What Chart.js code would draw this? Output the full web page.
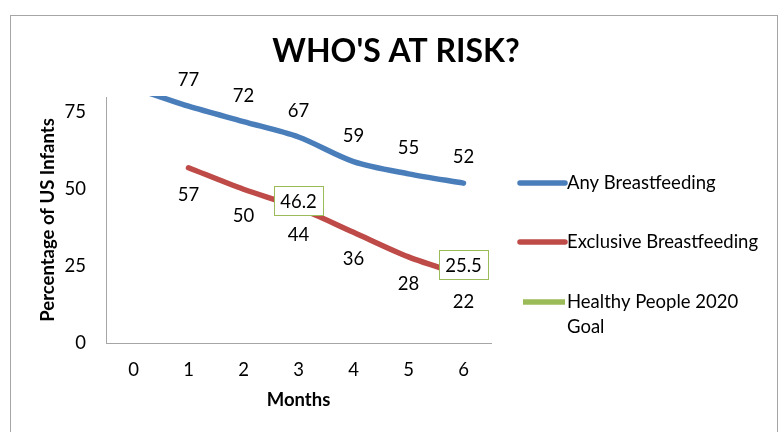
<!DOCTYPE html>
<html>
<head>
<meta charset="utf-8">
<script src="https://cdn.jsdelivr.net/npm/chart.js@4.4.1/dist/chart.umd.min.js"></script>
<style>
  html, body { margin: 0; padding: 0; background: #ffffff; }
  #wrap { position: relative; width: 783px; height: 432px; }
  canvas { display: block; }
</style>
</head>
<body>
<div id="wrap"><canvas id="c" width="783" height="432"></canvas></div>
<script>
// ---- data ----
const chartTitle = "WHO'S AT RISK?";
const xAxisTitle = 'Months';
const yAxisTitle = 'Percentage of US Infants';
const months = ['0', '1', '2', '3', '4', '5', '6'];
const anyBreastfeeding = [83, 77, 72, 67, 59, 55, 52];
const exclusiveBreastfeeding = [null, 57, 50, 44, 36, 28, 22];
const healthyPeopleGoal = [null, null, null, 46.2, null, null, 25.5];
const seriesNames = ['Any Breastfeeding', 'Exclusive Breastfeeding', 'Healthy People 2020 Goal'];
const yTicks = [0, 25, 50, 75];
const yMin = 0;
const yMax = 80;

const FONT = 'Lato, "Open Sans", sans-serif';
const FS = 18.5;
const BLUE = '#4a7ebb';
const RED = '#be4b48';
const GREEN = '#9bbb59';
const AXIS = '#a6a6a6';

const decorPlugin = {
  id: 'decor',
  beforeDraw(chart) {
    const ctx = chart.ctx;
    ctx.save();
    ctx.strokeStyle = '#a6a6a6';
    ctx.lineWidth = 1;
    ctx.strokeRect(10.5, 15.5, 767, 440);
    ctx.fillStyle = '#000';
    ctx.font = 'bold 32px ' + FONT;
    ctx.textAlign = 'center';
    ctx.textBaseline = 'middle';
    ctx.fillText(chartTitle, 396, 52);
    ctx.restore();
  },
  afterDatasetsDraw(chart) {
    const ctx = chart.ctx;
    const area = chart.chartArea;
    ctx.save();
    ctx.font = FS + 'px ' + FONT;
    ctx.textAlign = 'center';
    ctx.textBaseline = 'middle';
    chart.data.datasets.forEach((ds, di) => {
      const meta = chart.getDatasetMeta(di);
      meta.data.forEach((pt, i) => {
        const v = ds.data[i];
        if (v === null || v === undefined) return;
        if (pt.y < area.top - 0.5 || pt.y > area.bottom + 0.5) return;
        const txt = String(v);
        if (ds.labelPos === 'above') {
          ctx.fillStyle = '#000';
          ctx.fillText(txt, pt.x, pt.y - 26);
        } else if (ds.labelPos === 'below') {
          ctx.fillStyle = '#000';
          ctx.fillText(txt, pt.x, pt.y + 27);
        } else {
          const w = ctx.measureText(txt).width + 12;
          const h = 29;
          ctx.fillStyle = '#fff';
          ctx.fillRect(pt.x - w / 2, pt.y - h / 2, w, h);
          ctx.strokeStyle = GREEN;
          ctx.lineWidth = 1;
          ctx.strokeRect(Math.round(pt.x - w / 2) + 0.5, Math.round(pt.y - h / 2) + 0.5, Math.round(w), h);
          ctx.fillStyle = '#000';
          ctx.fillText(txt, pt.x, pt.y + 1);
        }
      });
    });
    // legend
    const lx0 = 520, lx1 = 565, tx = 567;
    const ys = [183, 242, 302];
    ctx.textAlign = 'left';
    chart.data.datasets.forEach((ds, di) => {
      const y = ys[di];
      ctx.strokeStyle = ds.borderColor;
      ctx.lineWidth = 5.5;
      ctx.lineCap = ds.legendCap;
      ctx.beginPath();
      ctx.moveTo(lx0 + (ds.legendCap === 'butt' ? 3 : 0), y);
      ctx.lineTo(lx1, y);
      ctx.stroke();
      ctx.fillStyle = '#000';
      const words = ds.label.split(' ');
      const lines = [];
      let cur = '';
      words.forEach(w => {
        const t = cur ? cur + ' ' + w : w;
        if (ctx.measureText(t).width > 200 && cur) { lines.push(cur); cur = w; } else cur = t;
      });
      lines.push(cur);
      lines.forEach((ln, k) => ctx.fillText(ln, tx, y + k * 25));
    });
    ctx.restore();
  }
};

new Chart(document.getElementById('c'), {
  type: 'line',
  data: {
    labels: months,
    datasets: [
      { label: seriesNames[0], data: anyBreastfeeding, borderColor: BLUE, backgroundColor: BLUE,
        borderWidth: 5.5, tension: 0.3, pointRadius: 0, borderCapStyle: 'round', borderJoinStyle: 'round',
        labelPos: 'above', legendCap: 'round', clip: 1 },
      { label: seriesNames[1], data: exclusiveBreastfeeding, borderColor: RED, backgroundColor: RED,
        borderWidth: 5.5, tension: 0.3, pointRadius: 0, borderCapStyle: 'round', borderJoinStyle: 'round',
        labelPos: 'below', legendCap: 'round' },
      { label: seriesNames[2], data: healthyPeopleGoal, borderColor: GREEN, backgroundColor: GREEN,
        borderWidth: 5.5, pointRadius: 0, spanGaps: false,
        labelPos: 'box', legendCap: 'butt' }
    ]
  },
  options: {
    responsive: false,
    animation: false,
    devicePixelRatio: 1,
    layout: { padding: { left: 0, right: 292, top: 97, bottom: 0 } },
    plugins: { legend: { display: false }, title: { display: false }, tooltip: { enabled: false } },
    scales: {
      x: {
        offset: true,
        grid: { display: false, drawTicks: false },
        border: { display: true, color: AXIS, width: 1 },
        ticks: { color: '#000', font: { family: FONT, size: FS }, padding: 16, maxRotation: 0 },
        title: { display: true, text: xAxisTitle, color: '#000', font: { family: FONT, size: FS, weight: 'bold' }, padding: { top: 0, bottom: 21 } },
        afterFit(s) { s.height = 89; }
      },
      y: {
        min: yMin, max: yMax,
        grid: { display: false, drawTicks: false },
        border: { display: true, color: AXIS, width: 1 },
        ticks: { color: '#000', font: { family: FONT, size: FS }, padding: 20 },
        afterBuildTicks(s) { s.ticks = yTicks.map(v => ({ value: v })); },
        title: { display: true, text: yAxisTitle, color: '#000', font: { family: FONT, size: FS, weight: 'bold' }, padding: { top: 37, bottom: 0 } },
        afterFit(s) { s.width = 106; }
      }
    }
  },
  plugins: [decorPlugin]
});
</script>
</body>
</html>
